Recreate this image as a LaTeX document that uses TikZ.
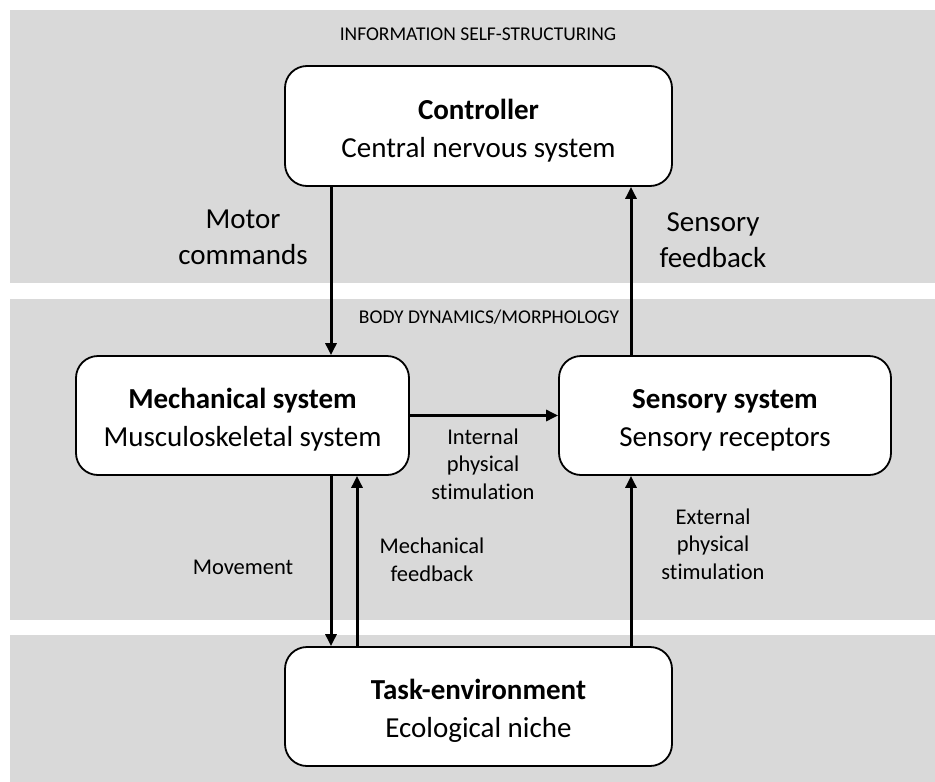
\documentclass[tikz,border=0pt]{standalone}
\usepackage{fontspec}
\setmainfont{Carlito}[Ligatures=NoCommon]
\usetikzlibrary{arrows.meta,calc}
\definecolor{bandgray}{RGB}{217,217,217}
\newcommand{\mytopstrut}{\rule{0pt}{29pt}}
\tikzset{
  band/.style={fill=bandgray,draw=none},
  box/.style={draw=black,fill=white,line width=1.8pt,rounded corners=22pt,align=center,
    font=\fontsize{29}{38}\selectfont,inner sep=0pt},
  arr/.style={line width=3pt,-{Triangle[length=12pt,width=11pt]}},
  biglab/.style={align=center,font=\fontsize{29}{36}\selectfont,inner sep=0pt},
  smalllab/.style={align=center,font=\fontsize{22.5}{27.5}\selectfont,inner sep=0pt},
  bandlab/.style={font=\fontsize{19.5}{23}\selectfont,inner sep=0pt}
}
\begin{document}
\begin{tikzpicture}[x=1pt,y=-1pt]
\useasboundingbox (0,0) rectangle (935,782);
\fill[white] (0,0) rectangle (935,782);
\fill[band] (10,10) rectangle (935,283);
\fill[band] (10,299) rectangle (935,620);
\fill[band] (10,635) rectangle (935,782);

\node[bandlab] (l1) at (478,34) {INFORMATION SELF-STRUCTURING};
\node[bandlab] (l2) at (489,317) {BODY DYNAMICS/MORPHOLOGY};

\node[box,minimum width=387pt,minimum height=120pt] (ctrl) at (478.5,126)
  {\mytopstrut\textbf{Controller}\\Central nervous system};
\node[box,minimum width=333pt,minimum height=119pt] (mech) at (242.5,415.5)
  {\mytopstrut\textbf{Mechanical system}\\Musculoskeletal system};
\node[box,minimum width=332pt,minimum height=119pt] (sens) at (725,415.5)
  {\mytopstrut\textbf{Sensory system}\\Sensory receptors};
\node[box,minimum width=387pt,minimum height=119pt] (task) at (478.5,706.5)
  {\mytopstrut\textbf{Task-environment}\\Ecological niche};

\coordinate (cA) at (331,0);
\coordinate (cB) at (357,0);
\coordinate (cC) at (631,0);

\draw[arr] (ctrl.south -| cA) -- (mech.north -| cA);
\draw[arr] (sens.north -| cC) -- (ctrl.south -| cC);
\draw[arr] (mech.east) -- (sens.west);
\draw[arr] (mech.south -| cA) -- (task.north -| cA);
\draw[arr] (task.north -| cB) -- (mech.south -| cB);
\draw[arr] (task.north -| cC) -- (sens.south -| cC);

\node[biglab] (motor) at (243,237) {Motor\\commands};
\node[biglab] (sfb) at (713,240) {Sensory\\feedback};
\node[smalllab] (int) at (483,464) {Internal\\physical\\stimulation};
\node[smalllab] (mov) at (243,567) {Movement};
\node[smalllab] (mfb) at (432,560) {Mechanical\\feedback};
\node[smalllab] (ext) at (713,544) {External\\physical\\stimulation};
\end{tikzpicture}
\end{document}
